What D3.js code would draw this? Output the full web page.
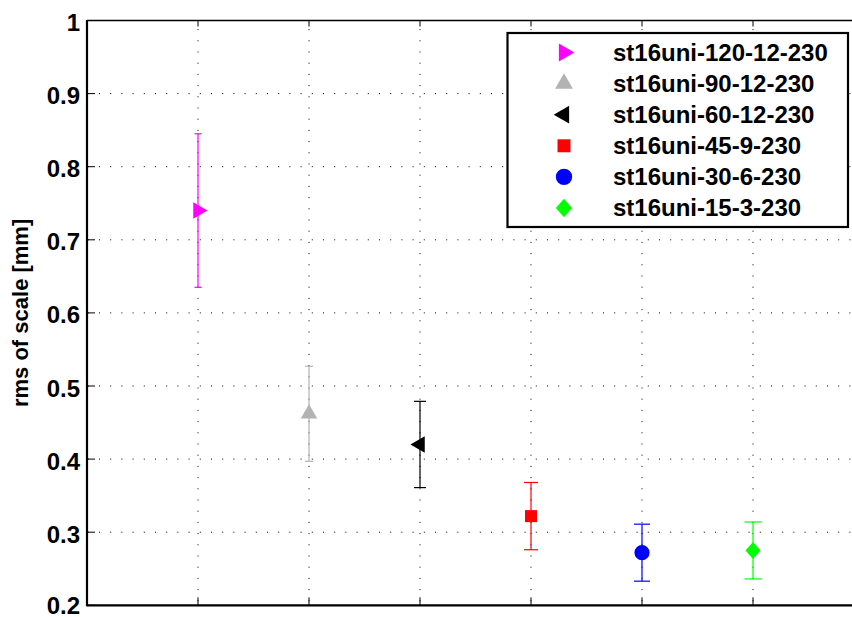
<!DOCTYPE html>
<html>
<head>
<meta charset="utf-8">
<script src="https://cdn.jsdelivr.net/npm/d3@7"></script>
<style>
  html, body { margin: 0; padding: 0; background: #fff; }
  svg { display: block; font-family: "Liberation Sans", Arial, sans-serif; font-weight: bold; }
</style>
</head>
<body>
<svg id="chart" width="852" height="617"></svg>
<script>
// ---- data ----
const seriesNames = ["st16uni-120-12-230", "st16uni-90-12-230", "st16uni-60-12-230",
                     "st16uni-45-9-230", "st16uni-30-6-230", "st16uni-15-3-230"];
const xPositions = [1, 2, 3, 4, 5, 6];
const means = [0.740, 0.462, 0.420, 0.322, 0.272, 0.275];
const errors = [0.105, 0.065, 0.059, 0.046, 0.039, 0.039];
const yTicks = [0.2, 0.3, 0.4, 0.5, 0.6, 0.7, 0.8, 0.9, 1];
const yTickLabels = ["0.2", "0.3", "0.4", "0.5", "0.6", "0.7", "0.8", "0.9", "1"];
const xTicks = [1, 2, 3, 4, 5, 6];

// ---- styles ----
const colors = ["#ff00ff", "#b3b3b3", "#000000", "#ff0000", "#0000ff", "#00ff00"];
const markerKinds = ["triRight", "triUp", "triLeft", "square", "circle", "diamond"];
const capHalf = [3.5, 4, 6, 7, 8, 8.5];

(function () {
const svg = d3.select("#chart");
const pL = 87, pR = 864, pT = 20.5, pB = 605.3;

const x = d3.scaleLinear().domain([0, 7]).range([pL, pR]);
const y = d3.scaleLinear().domain([0.2, 1]).range([pB, pT]);

// grid
const grid = svg.append("g");
grid.selectAll("line.h").data(yTicks.filter(t => t > 0.2 && t < 1)).enter().append("line")
  .attr("x1", pL).attr("x2", pR).attr("y1", d => y(d)).attr("y2", d => y(d))
  .attr("stroke", "#000").attr("stroke-width", 1).attr("stroke-dasharray", "1,10.2")
  .attr("stroke-dashoffset", -12);
grid.selectAll("line.v").data(xTicks).enter().append("line")
  .attr("x1", d => x(d)).attr("x2", d => x(d)).attr("y1", pB).attr("y2", pT)
  .attr("stroke", "#000").attr("stroke-width", 1).attr("stroke-dasharray", "1,10.2")
  .attr("stroke-dashoffset", -4);

// ticks
const ticks = svg.append("g").attr("stroke", "#000").attr("stroke-width", 1);
xTicks.forEach(t => {
  ticks.append("line").attr("x1", x(t)).attr("x2", x(t)).attr("y1", pB).attr("y2", pB - 8);
  ticks.append("line").attr("x1", x(t)).attr("x2", x(t)).attr("y1", pT).attr("y2", pT + 6);
});
yTicks.forEach(t => {
  ticks.append("line").attr("x1", pL).attr("x2", pL + 8).attr("y1", y(t)).attr("y2", y(t));
});

// frame
svg.append("line").attr("x1", pL).attr("x2", pR).attr("y1", pT).attr("y2", pT)
  .attr("stroke", "#000").attr("stroke-width", 1.3);
svg.append("line").attr("x1", pL).attr("x2", pR).attr("y1", pB).attr("y2", pB)
  .attr("stroke", "#000").attr("stroke-width", 2.2);
svg.append("line").attr("x1", pL).attr("x2", pL).attr("y1", pT - 0.5).attr("y2", pB + 1)
  .attr("stroke", "#000").attr("stroke-width", 2.2);

// y tick labels
svg.append("g").selectAll("text").data(yTicks).enter().append("text")
  .attr("x", 80).attr("y", d => Math.min(y(d) + 10.5, 614))
  .attr("text-anchor", "end").attr("font-size", 24).attr("fill", "#000")
  .text((d, i) => yTickLabels[i]);

// y axis label
svg.append("text")
  .attr("transform", `translate(27.5, ${(pT + pB) / 2}) rotate(-90)`)
  .attr("text-anchor", "middle").attr("font-size", 22).attr("fill", "#000")
  .text("rms of scale [mm]");

// marker shapes
function markerPath(kind) {
  if (kind === "triRight" || kind === "triUp" || kind === "triLeft")
    return d3.symbol().type(d3.symbolTriangle).size(118)();
  if (kind === "square") return d3.symbol().type(d3.symbolSquare).size(144)();
  if (kind === "circle") return d3.symbol().type(d3.symbolCircle).size(180)();
  return "M0,-8.5L7.5,0L0,8.5L-7.5,0Z";
}
function markerRot(kind) {
  if (kind === "triRight") return 90;
  if (kind === "triLeft") return -90;
  return 0;
}

// error bars + markers
const pts = svg.append("g");
means.forEach((m, i) => {
  const cx = x(xPositions[i]);
  const lo = y(m - errors[i]), hi = y(m + errors[i]);
  const g = pts.append("g").attr("stroke", colors[i]).attr("stroke-width", 1.2);
  g.append("line").attr("x1", cx).attr("x2", cx).attr("y1", lo).attr("y2", hi);
  g.append("line").attr("x1", cx - capHalf[i]).attr("x2", cx + capHalf[i]).attr("y1", lo).attr("y2", lo);
  g.append("line").attr("x1", cx - capHalf[i]).attr("x2", cx + capHalf[i]).attr("y1", hi).attr("y2", hi);
  pts.append("path").attr("d", markerPath(markerKinds[i]))
    .attr("transform", `translate(${cx},${y(m)}) rotate(${markerRot(markerKinds[i])})`)
    .attr("fill", colors[i]);
});

// legend
const lg = svg.append("g");
lg.append("rect").attr("x", 507.5).attr("y", 33).attr("width", 340.5).attr("height", 194)
  .attr("fill", "#fff").attr("stroke", "#000").attr("stroke-width", 2.2);
seriesNames.forEach((name, i) => {
  const cy = 52.5 + i * 31.1;
  lg.append("path").attr("d", markerPath(markerKinds[i]))
    .attr("transform", `translate(564,${cy}) rotate(${markerRot(markerKinds[i])}) scale(1.08)`)
    .attr("fill", colors[i]);
  lg.append("text").attr("x", 613).attr("y", cy + 8.4)
    .attr("font-size", 24).attr("fill", "#000").text(name);
});
})();
</script>
</body>
</html>
